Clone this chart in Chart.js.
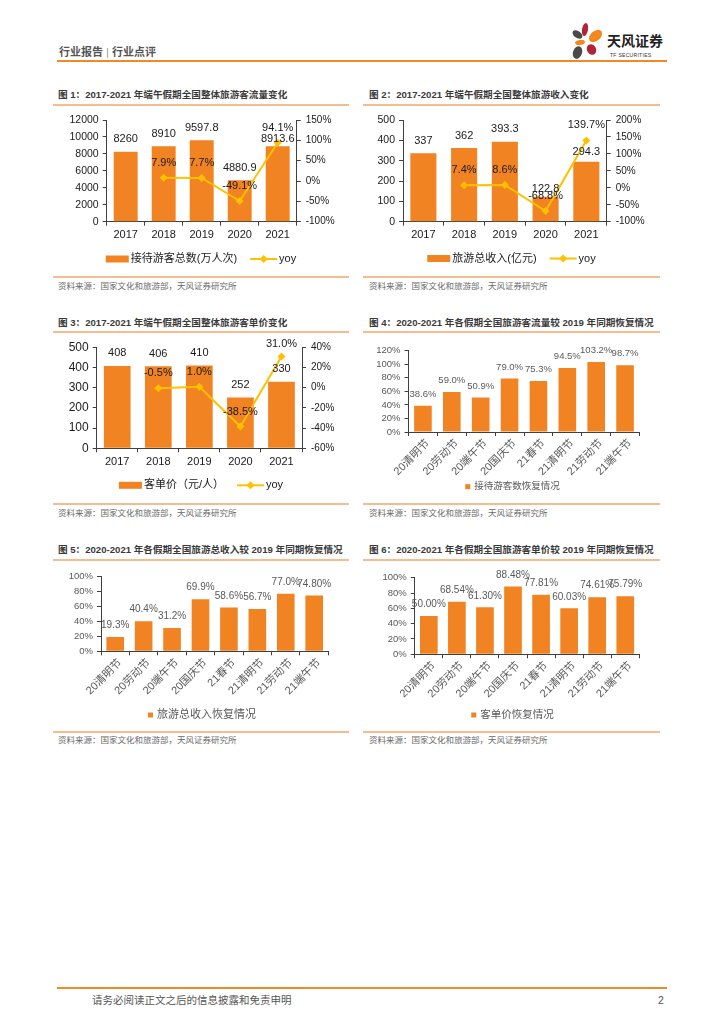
<!DOCTYPE html>
<html>
<head>
<meta charset="utf-8">
<script src="https://cdn.jsdelivr.net/npm/chart.js@4.4.0/dist/chart.umd.min.js"></script>
<style>
  body { margin: 0; width: 724px; height: 1024px; position: relative; background: #fff; overflow: hidden;
         font-family: "Liberation Sans", "Noto Sans CJK SC", sans-serif; }
  .abs { position: absolute; white-space: nowrap; }
  canvas { position: absolute; }
  .ttl { font-size: 9.6px; font-weight: bold; color: #3a3a3a; line-height: 12px; }
  .src { font-size: 8.5px; color: #6a6a6a; line-height: 12px; }
  .uline { height: 1.5px; background: #F6BC8E; }
  .petal { position: absolute; border-radius: 50%; }
</style>
</head>
<body>

<!-- header -->
<div class="abs" style="left:59px;top:45px;font-size:11px;color:#555;font-weight:bold;line-height:14px;">行业报告 <span style="font-weight:normal;color:#999">|</span> 行业点评</div>
<div class="abs" style="left:57px;top:60px;width:610px;height:2px;background:#F08A24;"></div>
<div class="petal" style="left:572px;top:31px;width:11px;height:7px;background:#4a4a4a;transform:rotate(35deg)"></div>
<div class="petal" style="left:582px;top:23px;width:6px;height:13px;background:#B0243A;transform:rotate(10deg)"></div>
<div class="petal" style="left:588px;top:31px;width:15px;height:10px;background:#F08A1C;transform:rotate(-40deg)"></div>
<div class="petal" style="left:575px;top:40px;width:10px;height:5px;background:#F08A1C;transform:rotate(-10deg)"></div>
<div class="petal" style="left:573px;top:46px;width:9px;height:13px;background:#4a4a4a;transform:rotate(20deg)"></div>
<div class="petal" style="left:587px;top:44px;width:9px;height:11px;background:#B0243A;transform:rotate(-30deg)"></div>
<div class="abs" style="left:607px;top:33px;font-size:14px;font-weight:bold;color:#222;line-height:17px;">天风证券</div>
<div class="abs" style="left:610px;top:52px;font-size:5px;color:#333;line-height:6px;letter-spacing:0.3px;">TF SECURITIES</div>

<!-- panel frames -->
<div class="abs ttl" style="left:58px;top:89px;">图 1：2017-2021 年端午假期全国整体旅游客流量变化</div>
<div class="abs ttl" style="left:369px;top:89px;">图 2：2017-2021 年端午假期全国整体旅游收入变化</div>
<div class="abs uline" style="left:53px;top:104px;width:296px;"></div>
<div class="abs uline" style="left:363px;top:104px;width:297px;"></div>
<div class="abs uline" style="left:53px;top:276px;width:296px;"></div>
<div class="abs uline" style="left:363px;top:276px;width:297px;"></div>
<div class="abs src" style="left:58px;top:280px;">资料来源：国家文化和旅游部，天风证券研究所</div>
<div class="abs src" style="left:369px;top:280px;">资料来源：国家文化和旅游部，天风证券研究所</div>

<div class="abs ttl" style="left:58px;top:317px;">图 3：2017-2021 年端午假期全国整体旅游客单价变化</div>
<div class="abs ttl" style="left:369px;top:317px;">图 4：2020-2021 年各假期全国旅游客流量较 2019 年同期恢复情况</div>
<div class="abs uline" style="left:53px;top:331px;width:296px;"></div>
<div class="abs uline" style="left:363px;top:331px;width:297px;"></div>
<div class="abs uline" style="left:53px;top:503px;width:296px;"></div>
<div class="abs uline" style="left:363px;top:503px;width:297px;"></div>
<div class="abs src" style="left:58px;top:507px;">资料来源：国家文化和旅游部，天风证券研究所</div>
<div class="abs src" style="left:369px;top:507px;">资料来源：国家文化和旅游部，天风证券研究所</div>

<div class="abs ttl" style="left:58px;top:544px;">图 5：2020-2021 年各假期全国旅游总收入较 2019 年同期恢复情况</div>
<div class="abs ttl" style="left:369px;top:544px;">图 6：2020-2021 年各假期全国旅游客单价较 2019 年同期恢复情况</div>
<div class="abs uline" style="left:53px;top:559px;width:296px;"></div>
<div class="abs uline" style="left:363px;top:559px;width:297px;"></div>
<div class="abs uline" style="left:53px;top:731px;width:296px;"></div>
<div class="abs uline" style="left:363px;top:731px;width:297px;"></div>
<div class="abs src" style="left:58px;top:734px;">资料来源：国家文化和旅游部，天风证券研究所</div>
<div class="abs src" style="left:369px;top:734px;">资料来源：国家文化和旅游部，天风证券研究所</div>

<canvas id="visitorsChart" width="296" height="170" style="left:53px;top:106px"></canvas>
<canvas id="revenueChart" width="297" height="170" style="left:363px;top:106px"></canvas>
<canvas id="spendChart" width="296" height="170" style="left:53px;top:333px"></canvas>
<canvas id="visitorRecoveryChart" width="297" height="170" style="left:363px;top:333px"></canvas>
<canvas id="revenueRecoveryChart" width="296" height="170" style="left:53px;top:561px"></canvas>
<canvas id="spendRecoveryChart" width="297" height="170" style="left:363px;top:561px"></canvas>

<!-- footer -->
<div class="abs" style="left:57px;top:987px;width:610px;height:2px;background:#F08A24;"></div>
<div class="abs" style="left:92px;top:993px;font-size:10.5px;color:#555;line-height:14px;">请务必阅读正文之后的信息披露和免责申明</div>
<div class="abs" style="left:658px;top:993px;font-size:10.5px;color:#555;line-height:14px;">2</div>

<script>
// 端午假期 2017-2021
const YEARS = ['2017', '2018', '2019', '2020', '2021'];
const VISITORS = [8260, 8910, 9597.8, 4880.9, 8913.6];        // 万人次
const VISITORS_YOY = [null, 7.9, 7.7, -49.1, 94.1];
const REVENUE = [337, 362, 393.3, 122.8, 294.3];              // 亿元
const REVENUE_YOY = [null, 7.4, 8.6, -68.8, 139.7];
const SPEND = [408, 406, 410, 252, 330];                      // 元/人
const SPEND_YOY = [null, -0.5, 1.0, -38.5, 31.0];

// axis ranges [min, max, step]
const VISITORS_AXIS = [0, 12000, 2000];
const VISITORS_YOY_AXIS = [-100, 150, 50];
const REVENUE_AXIS = [0, 500, 100];
const REVENUE_YOY_AXIS = [-100, 200, 50];
const SPEND_AXIS = [0, 500, 100];
const SPEND_YOY_AXIS = [-60, 40, 20];

// 各假期较 2019 年同期恢复 (%)
const HOLIDAYS = ['20清明节', '20劳动节', '20端午节', '20国庆节', '21春节', '21清明节', '21劳动节', '21端午节'];
const VISITOR_RECOVERY = [38.6, 59.0, 50.9, 79.0, 75.3, 94.5, 103.2, 98.7];
const REVENUE_RECOVERY = [19.3, 40.4, 31.2, 69.9, 58.6, 56.7, 77.0, 74.8];
const REVENUE_RECOVERY_DIGITS = [1, 1, 1, 1, 1, 1, 1, 2];
const SPEND_RECOVERY = [50.00, 68.54, 61.30, 88.48, 77.81, 60.03, 74.61, 75.79];
const VISITOR_RECOVERY_AXIS = [0, 120, 20];
const REVENUE_RECOVERY_AXIS = [0, 100, 20];
const SPEND_RECOVERY_AXIS = [0, 100, 20];

const FONT = '"Liberation Sans", "Noto Sans CJK SC", sans-serif';
const BAR_ORANGE = '#F28322';
const LINE_YELLOW = '#FFC000';
const AXIS_DARK = '#404040';
const TEXT_DARK = '#1a1a1a';
const TEXT_GRAY = '#595959';

// value labels drawn above bars / points
const valueLabels = {
  id: 'valueLabels',
  afterDatasetsDraw(chart) {
    const ctx = chart.ctx;
    chart.data.datasets.forEach((ds, i) => {
      const lab = ds.valueLabel;
      if (!lab) return;
      const meta = chart.getDatasetMeta(i);
      ctx.save();
      ctx.font = lab.font;
      ctx.fillStyle = lab.color;
      ctx.textAlign = 'center';
      ctx.textBaseline = 'middle';
      meta.data.forEach((el, j) => {
        const v = ds.data[j];
        if (v === null || v === undefined) return;
        const nudge = (lab.nudge && lab.nudge[j]) || 0;
        ctx.fillText(lab.format(v, j), el.x, el.y - lab.offset + nudge);
      });
      ctx.restore();
    });
  }
};

// legend in the Excel style (wide bar swatch, line with diamond)
const sketchLegend = {
  id: 'sketchLegend',
  afterDraw(chart, args, opts) {
    if (!opts || !opts.y) return;
    const ctx = chart.ctx;
    ctx.save();
    ctx.font = opts.font;
    ctx.textBaseline = 'middle';
    const items = chart.data.datasets.map(ds => {
      const sw = ds.type === 'line' ? opts.lineSwatch : opts.barSwatch;
      return { ds, sw, textW: ctx.measureText(ds.label).width };
    });
    const total = items.reduce((s, it) => s + it.sw.w + opts.textGap + it.textW, 0) + opts.itemGap * (items.length - 1);
    let x = (chart.width - total) / 2 + (opts.shift || 0);
    const y = opts.y;
    items.forEach(it => {
      if (it.ds.type === 'line') {
        ctx.strokeStyle = it.ds.borderColor;
        ctx.lineWidth = 2;
        ctx.beginPath();
        ctx.moveTo(x, y);
        ctx.lineTo(x + it.sw.w, y);
        ctx.stroke();
        const cx = x + it.sw.w / 2, r = it.sw.r;
        ctx.fillStyle = it.ds.backgroundColor;
        ctx.beginPath();
        ctx.moveTo(cx, y - r); ctx.lineTo(cx + r, y); ctx.lineTo(cx, y + r); ctx.lineTo(cx - r, y);
        ctx.closePath();
        ctx.fill();
      } else {
        ctx.fillStyle = it.ds.backgroundColor;
        ctx.fillRect(x, y - it.sw.h / 2, it.sw.w, it.sw.h);
      }
      x += it.sw.w + opts.textGap;
      ctx.fillStyle = opts.color;
      ctx.fillText(it.ds.label, x, y);
      x += it.textW + opts.itemGap;
    });
    ctx.restore();
  }
};

function axisLine(color) {
  return {
    grid: { display: true, drawOnChartArea: false, drawTicks: true, tickLength: 4, color: color },
    border: { display: true, color: color, width: 1 }
  };
}

function font(size) {
  return { family: FONT, size: size };
}

/**
 * Bar + yoy line chart (图1-3)
 */
function comboChart(id, box, plot, cfg) {
  const xH = 20;
  return new Chart(document.getElementById(id), {
    type: 'bar',
    data: {
      labels: YEARS,
      datasets: [
        {
          type: 'bar',
          label: cfg.barLabel,
          data: cfg.bars,
          yAxisID: 'y',
          backgroundColor: BAR_ORANGE,
          barPercentage: cfg.barPct,
          categoryPercentage: 1,
          order: 2,
          valueLabel: { font: '11px ' + FONT, color: TEXT_DARK, offset: 12.5, nudge: cfg.barNudge, format: v => String(v) }
        },
        {
          type: 'line',
          label: 'yoy',
          data: cfg.yoy,
          yAxisID: 'y1',
          borderColor: LINE_YELLOW,
          backgroundColor: LINE_YELLOW,
          borderWidth: 2,
          pointStyle: 'rectRot',
          pointRadius: 4,
          pointBorderWidth: 0,
          tension: 0,
          order: 1,
          valueLabel: { font: '11px ' + FONT, color: TEXT_DARK, offset: 15, nudge: cfg.yoyNudge, format: v => v.toFixed(1) + '%' }
        }
      ]
    },
    options: {
      responsive: false,
      animation: false,
      layout: { padding: { left: 0, right: 0, top: plot.t - box.y, bottom: box.y + box.h - plot.b - xH } },
      plugins: {
        legend: { display: false },
        tooltip: { enabled: false },
        sketchLegend: {
          y: cfg.legendY - box.y, font: '11px ' + FONT, color: TEXT_DARK,
          barSwatch: { w: 23, h: 7 }, lineSwatch: { w: 27, r: 4 }, textGap: 2, itemGap: 13
        }
      },
      scales: {
        x: {
          ...axisLine(AXIS_DARK),
          ticks: { color: TEXT_DARK, font: font(11), padding: 3, maxRotation: 0 },
          afterFit: s => { s.height = xH; }
        },
        y: {
          ...axisLine(AXIS_DARK),
          position: 'left',
          min: cfg.axis[0], max: cfg.axis[1],
          ticks: { stepSize: cfg.axis[2], autoSkip: false, color: TEXT_DARK, font: font(cfg.leftFont), padding: 4, callback: v => String(v) },
          afterFit: s => { s.width = plot.l - box.x; }
        },
        y1: {
          ...axisLine(AXIS_DARK),
          position: 'right',
          min: cfg.yoyAxis[0], max: cfg.yoyAxis[1],
          ticks: { stepSize: cfg.yoyAxis[2], autoSkip: false, color: TEXT_DARK, font: font(10), padding: 5, callback: v => v + '%' },
          afterFit: s => { s.width = box.x + box.w - plot.r; }
        }
      }
    },
    plugins: [valueLabels, sketchLegend]
  });
}

/**
 * Recovery bar chart (图4-6)
 */
function recoveryChart(id, box, plot, cfg) {
  const xH = 45;
  return new Chart(document.getElementById(id), {
    type: 'bar',
    data: {
      labels: HOLIDAYS,
      datasets: [{
        type: 'bar',
        label: cfg.label,
        data: cfg.values,
        backgroundColor: BAR_ORANGE,
        barPercentage: cfg.barPct,
        categoryPercentage: 1,
        valueLabel: { font: cfg.labelFont + 'px ' + FONT, color: TEXT_GRAY, offset: 11.5, format: cfg.format }
      }]
    },
    options: {
      responsive: false,
      animation: false,
      layout: { padding: { left: 0, right: box.x + box.w - plot.r, top: plot.t - box.y, bottom: box.y + box.h - plot.b - xH } },
      plugins: {
        legend: { display: false },
        tooltip: { enabled: false },
        sketchLegend: {
          y: cfg.legendY - box.y, font: cfg.legendFont + 'px ' + FONT, color: TEXT_GRAY,
          barSwatch: { w: 5, h: 5 }, lineSwatch: { w: 20, r: 3 }, textGap: 4, itemGap: 10, shift: 1
        }
      },
      scales: {
        x: {
          ...axisLine(AXIS_DARK),
          ticks: { color: TEXT_GRAY, font: font(11), padding: 1, labelOffset: 5, autoSkip: false, minRotation: 45, maxRotation: 45 },
          afterFit: s => { s.height = xH; }
        },
        y: {
          ...axisLine(AXIS_DARK),
          min: cfg.axis[0], max: cfg.axis[1],
          ticks: { stepSize: cfg.axis[2], autoSkip: false, color: TEXT_GRAY, font: font(9.5), padding: 4, callback: v => v + '%' },
          afterFit: s => { s.width = plot.l - box.x; }
        }
      }
    },
    plugins: [valueLabels, sketchLegend]
  });
}

comboChart('visitorsChart',
  { x: 53, y: 106, w: 296, h: 170 }, { l: 106.7, r: 296.7, t: 120, b: 221.7 },
  { barLabel: '接待游客总数(万人次)', bars: VISITORS, yoy: VISITORS_YOY, axis: VISITORS_AXIS, yoyAxis: VISITORS_YOY_AXIS,
    barPct: 0.63, leftFont: 10.5, legendY: 259, barNudge: { 4: 5.5 }, yoyNudge: {} });

comboChart('revenueChart',
  { x: 363, y: 106, w: 297, h: 170 }, { l: 403, r: 606.7, t: 120, b: 221.7 },
  { barLabel: '旅游总收入(亿元)', bars: REVENUE, yoy: REVENUE_YOY, axis: REVENUE_AXIS, yoyAxis: REVENUE_YOY_AXIS,
    barPct: 0.64, leftFont: 10.5, legendY: 258.5, barNudge: { 3: 5, 4: 2.5 }, yoyNudge: {} });

comboChart('spendChart',
  { x: 53, y: 333, w: 296, h: 170 }, { l: 96.7, r: 302, t: 347.3, b: 448.3 },
  { barLabel: '客单价（元/人）', bars: SPEND, yoy: SPEND_YOY, axis: SPEND_AXIS, yoyAxis: SPEND_YOY_AXIS,
    barPct: 0.65, leftFont: 12, legendY: 485.3, barNudge: {}, yoyNudge: { 4: 3 } });

recoveryChart('visitorRecoveryChart',
  { x: 363, y: 333, w: 297, h: 170 }, { l: 408.5, r: 639.5, t: 350.7, b: 432 },
  { label: '接待游客数恢复情况', values: VISITOR_RECOVERY, axis: VISITOR_RECOVERY_AXIS, barPct: 0.61,
    labelFont: 9.5, legendFont: 9.5, legendY: 486.7, format: v => v.toFixed(1) + '%' });

recoveryChart('revenueRecoveryChart',
  { x: 53, y: 561, w: 296, h: 170 }, { l: 101, r: 328.4, t: 576.7, b: 651.3 },
  { label: '旅游总收入恢复情况', values: REVENUE_RECOVERY, axis: REVENUE_RECOVERY_AXIS, barPct: 0.62,
    labelFont: 10, legendFont: 11, legendY: 715, format: (v, i) => v.toFixed(REVENUE_RECOVERY_DIGITS[i]) + '%' });

recoveryChart('spendRecoveryChart',
  { x: 363, y: 561, w: 297, h: 170 }, { l: 414.8, r: 639.3, t: 577.7, b: 654.3 },
  { label: '客单价恢复情况', values: SPEND_RECOVERY, axis: SPEND_RECOVERY_AXIS, barPct: 0.63,
    labelFont: 10, legendFont: 10.5, legendY: 715, format: v => v.toFixed(2) + '%' });
</script>
</body>
</html>
